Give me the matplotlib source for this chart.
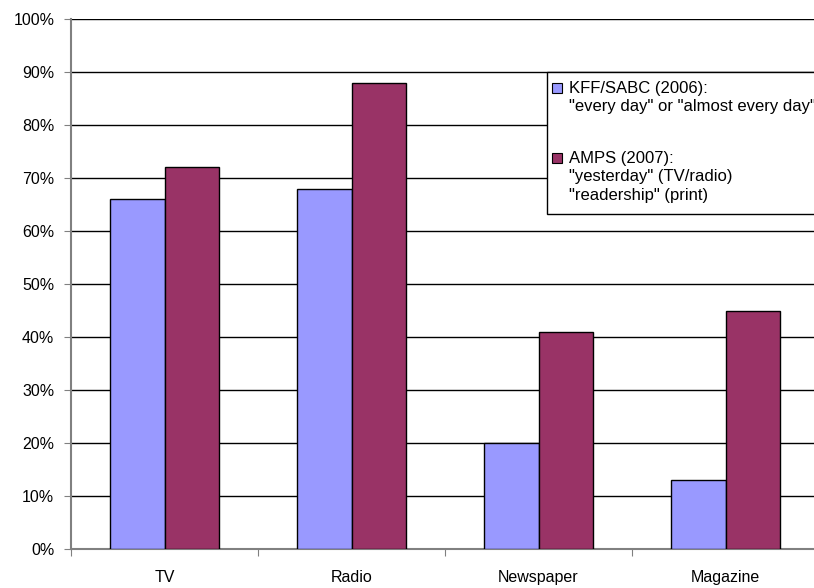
import matplotlib
matplotlib.use("Agg")
import matplotlib.pyplot as plt
from matplotlib.patches import Rectangle
import numpy as np

plt.rcParams["font.family"] = ["Liberation Sans", "DejaVu Sans"]

# data
categories = ["TV", "Radio", "Newspaper", "Magazine"]
kff_sabc = [66, 68, 20, 13]
amps = [72, 88, 41, 45]
series_labels = [
    ["KFF/SABC (2006):", '"every day" or "almost every day"'],
    ["AMPS (2007):", '"yesterday" (TV/radio)', '"readership" (print)'],
]
series_colors = ["#9999FF", "#993366"]
y_ticks = list(range(0, 101, 10))

W, H = 814, 588
FS = 11.5
fig = plt.figure(figsize=(W / 100, H / 100), dpi=100)
ax = fig.add_axes([71 / W, 39 / H, 748 / W, 530 / H])

x = np.arange(len(categories))
bw = 0.29
ax.bar(x - bw / 2, kff_sabc, bw, color=series_colors[0], edgecolor="black",
       linewidth=1, zorder=3)
ax.bar(x + bw / 2, amps, bw, color=series_colors[1], edgecolor="black",
       linewidth=1, zorder=3)

ax.set_xlim(-0.5, len(categories) - 0.5)
ax.set_ylim(0, 100)
ax.set_yticks(y_ticks)
ax.set_yticklabels([f"{v}%" for v in y_ticks])
ax.yaxis.grid(True, color="black", linewidth=1)
ax.set_axisbelow(True)

# category boundary ticks, labels centred between them
ax.set_xticks(np.arange(len(categories) + 1) - 0.5)
ax.set_xticklabels([])
ax.set_xticks(x, minor=True)
ax.set_xticklabels(categories, minor=True)
ax.tick_params(axis="x", which="minor", length=0, pad=15, labelsize=FS)
ax.tick_params(axis="x", which="major", length=5, color="#808080")
ax.tick_params(axis="y", length=5, color="#808080", pad=7, labelsize=FS)

for s in ["top", "right"]:
    ax.spines[s].set_visible(False)
for s in ["left", "bottom"]:
    ax.spines[s].set_color("#808080")
    ax.spines[s].set_linewidth(1.5)


# legend box (runs off the right edge, like the original)
def fx(px):
    return px / W


def fy(py):
    return 1 - py / H


fig.patches.append(Rectangle((fx(547), fy(214)), fx(400), 142 / H,
                             transform=fig.transFigure, facecolor="white",
                             edgecolor="black", linewidth=1, zorder=5))
entry_baselines = [93, 163]
line_step = 18.5
for base, lines, col in zip(entry_baselines, series_labels, series_colors):
    fig.patches.append(Rectangle((fx(552), fy(base)), fx(10), 10 / H,
                                 transform=fig.transFigure, facecolor=col,
                                 edgecolor="black", linewidth=0.8, zorder=6))
    for i, line in enumerate(lines):
        fig.text(fx(569), fy(base + i * line_step), line, ha="left",
                 va="baseline", fontsize=12, zorder=7)

fig.savefig("out.png", dpi=100)
